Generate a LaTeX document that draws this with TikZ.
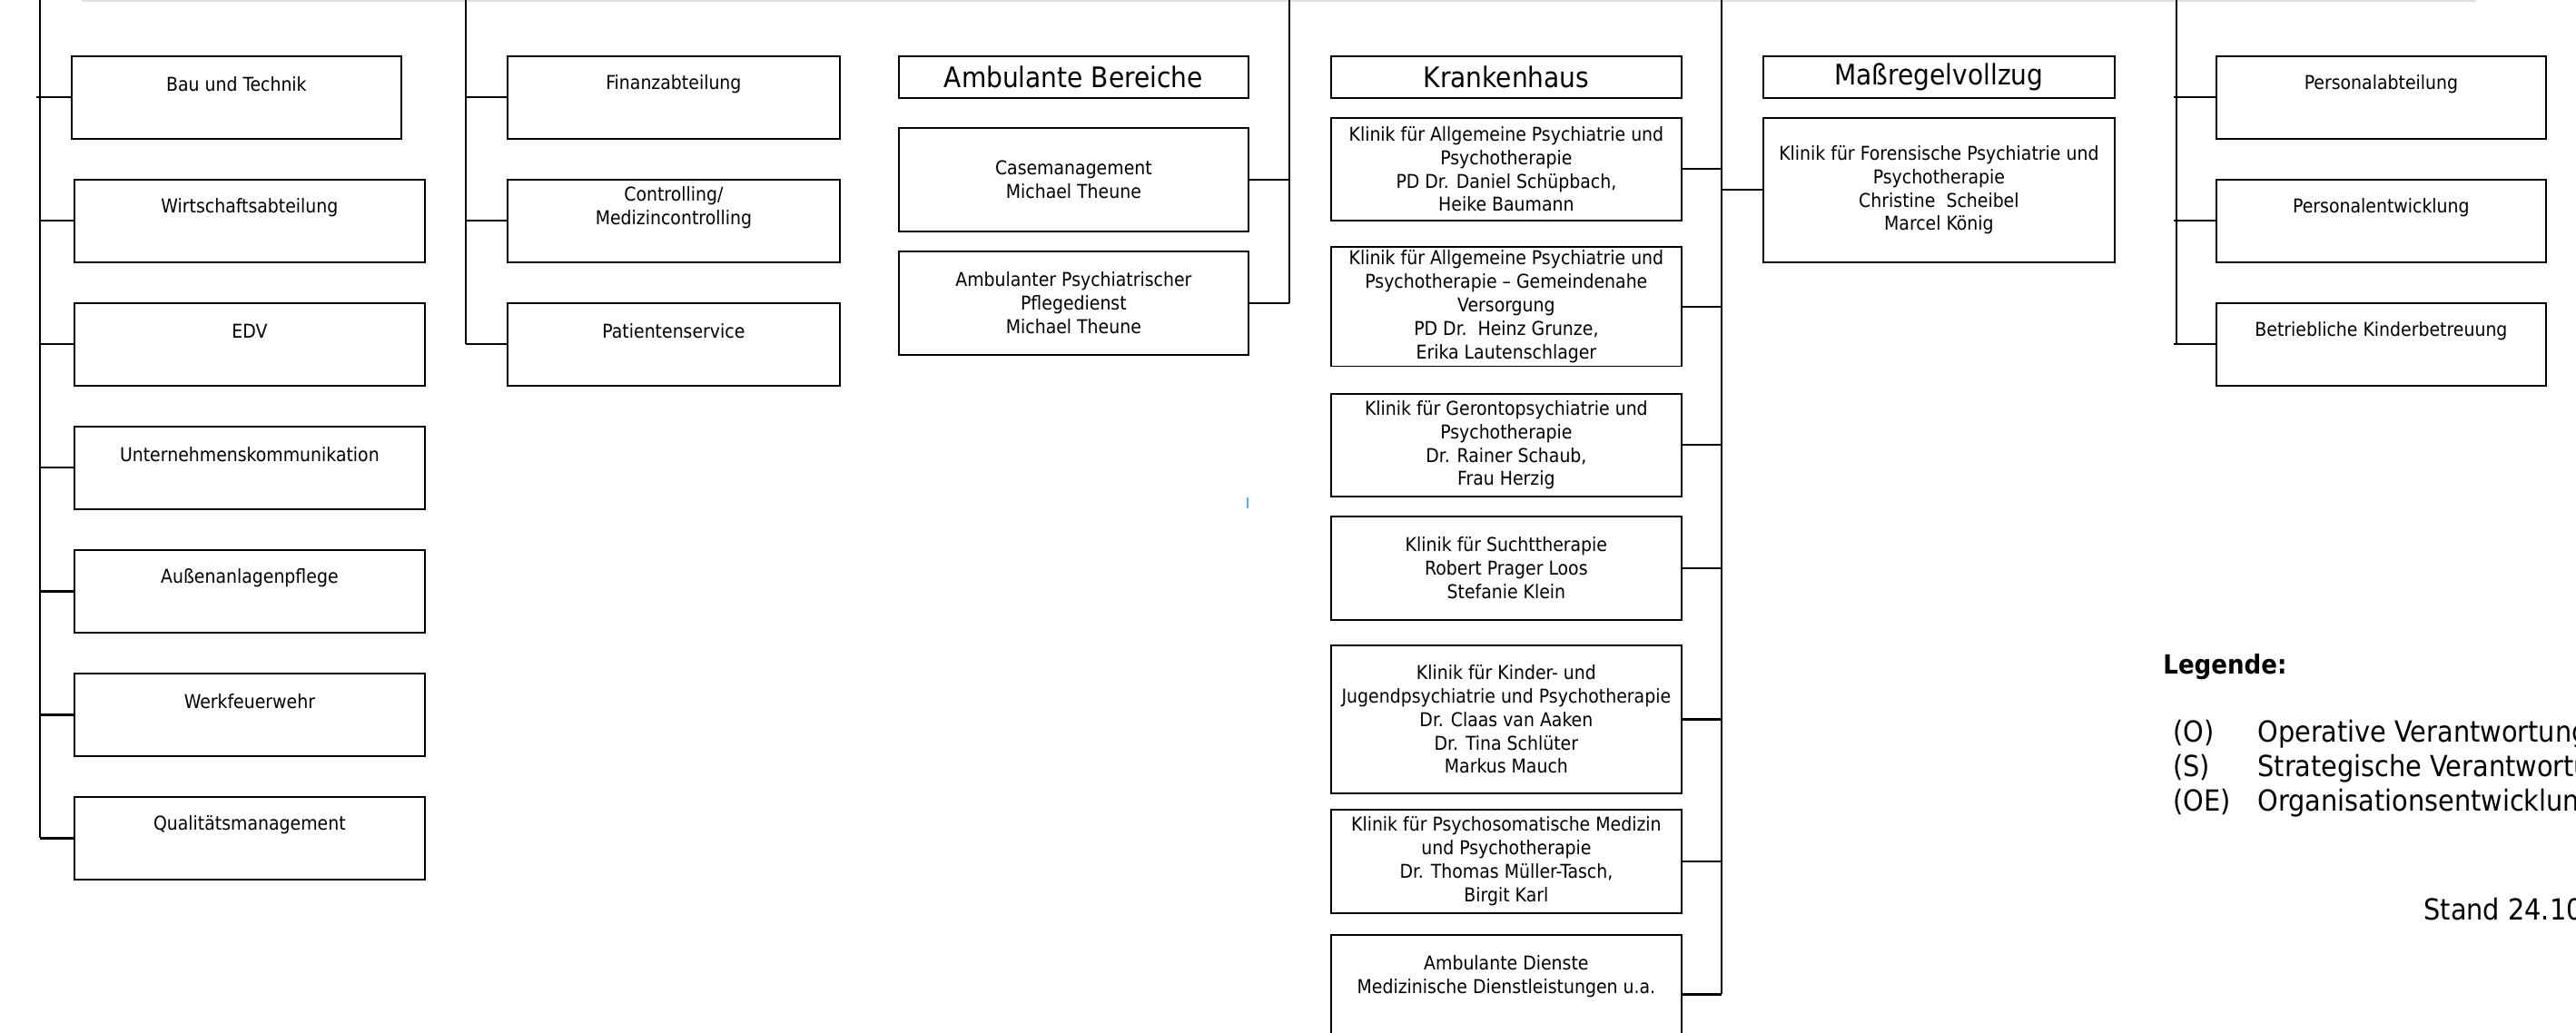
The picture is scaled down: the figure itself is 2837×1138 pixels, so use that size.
\documentclass[tikz,border=0pt]{standalone}
\usepackage{fontspec}
\setmainfont{DejaVu Sans Condensed}
\begin{document}
\begin{tikzpicture}[x=0.5pt,y=-0.5pt, line join=miter]
      \tikzset{box/.style={draw, line width=0.9pt, anchor=north west, inner sep=2pt,
        align=center, font=\fontsize{10.5}{12.9}\selectfont},
      head/.style={box, minimum height=23pt, font=\fontsize{15.6}{18}\selectfont},
      boxtext/.style={font=\fontsize{10.5}{12.9}\selectfont, align=center, anchor=center, yshift=-16pt},
      link/.style={line width=1.1pt},
      legend/.style={anchor=base west, inner sep=0pt, font=\fontsize{16}{20}\selectfont}}
      \useasboundingbox (0,0) rectangle (2837,1138);
      \draw [gray!25, line width=1pt] (90,1) -- (2727,1);
      \coordinate (bus1) at (44,0);   \coordinate (bus2) at (513,0);
      \coordinate (bus3) at (1420,0); \coordinate (bus4) at (1896,0);
      \coordinate (bus5) at (2397,0);
      % Stabsstellen links
      \node[box, minimum width=181.5pt, minimum height=45.5pt,
            label={[boxtext]north:Bau und Technik}] (bau) at (78,61) {};
      \draw [link] (bau.west) -- ([xshift=-2pt]bau.west -| bus1);
      \foreach \name/\txt [count=\i from 0] in {wirt/Wirtschaftsabteilung, edv/EDV,
          komm/Unternehmenskommunikation, aussen/Außenanlagenpflege,
          feuer/Werkfeuerwehr, qm/Qualitätsmanagement}{
        \node[box, minimum width=193pt, minimum height=45.5pt,
              label={[boxtext]north:\txt}] (\name) at (81,{197+136*\i}) {};
        \draw [link] (\name.west) -- (\name.west -| bus1);
      }
      \draw [link] (bus1) -- (bus1 |- qm.west);
      \foreach \name/\txt [count=\i from 0] in {fin/Finanzabteilung,
          contr/{Controlling/\\Medizincontrolling}, pat/Patientenservice}{
        \node[box, minimum width=183pt, minimum height=45.5pt,
              label={[boxtext]north:{\txt}}] (\name) at (558,{61+136*\i}) {};
        \draw [link] (\name.west) -- (\name.west -| bus2);
      }
      \draw [link] (bus2) -- (bus2 |- pat.west);
      % Ambulante Bereiche
      \node[head, minimum width=192.5pt] (amb) at (989,61) {Ambulante Bereiche};
      \node[box, minimum width=192.5pt, minimum height=57pt] (case) at (989,140)
            {Casemanagement\\Michael Theune};
      \node[box, minimum width=192.5pt, minimum height=57pt] (pflege) at (989,276)
            {Ambulanter Psychiatrischer\\Pflegedienst\\Michael Theune};
      \draw [link] (case.east) -- (case.east -| bus3);
      \draw [link] (pflege.east) -- (pflege.east -| bus3);
      \draw [link] (bus3) -- (bus3 |- pflege.east);
      % Krankenhaus
      \node[head, minimum width=193pt] (kh) at (1465,61) {Krankenhaus};
      \node[box, minimum width=193pt, minimum height=56.5pt] (k1) at (1465,129)
            {Klinik für Allgemeine Psychiatrie und\\Psychotherapie\\PD Dr. Daniel Schüpbach,\\Heike Baumann};
      \node[box, minimum width=193pt, minimum height=65pt] (k2) at (1465,271)
            {Klinik für Allgemeine Psychiatrie und\\Psychotherapie – Gemeindenahe\\Versorgung\\PD Dr.\ \ Heinz Grunze,\\Erika Lautenschlager};
      \node[box, minimum width=193pt, minimum height=56.5pt] (k3) at (1465,433)
            {Klinik für Gerontopsychiatrie und\\Psychotherapie\\Dr. Rainer Schaub,\\Frau Herzig};
      \node[box, minimum width=193pt, minimum height=57pt] (k4) at (1465,568)
            {Klinik für Suchttherapie\\Robert Prager Loos\\Stefanie Klein};
      \node[box, minimum width=193pt, minimum height=81.5pt] (k5) at (1465,710)
            {Klinik für Kinder- und\\Jugendpsychiatrie und Psychotherapie\\Dr. Claas van Aaken\\Dr. Tina Schlüter\\Markus Mauch};
      \node[box, minimum width=193pt, minimum height=57pt] (k6) at (1465,891)
            {Klinik für Psychosomatische Medizin\\und Psychotherapie\\Dr. Thomas Müller-Tasch,\\Birgit Karl};
      \node[box, minimum width=193pt, minimum height=65.5pt,
            label={[boxtext, yshift=-7.5pt]north:{Ambulante Dienste\\Medizinische Dienstleistungen u.a.}}]
            (k7) at (1465,1029) {};
      \foreach \k in {1,...,7}
        \draw [link] (k\k.east) -- (k\k.east -| bus4);
      \draw [link] (bus4) -- (bus4 |- k7.east);
      \draw [blue!45!cyan!70, line width=0.8pt] (1374,548) -- (1374,560);
      % Massregelvollzug
      \node[head, minimum width=193.5pt] (mrv) at (1941,61) {Maßregelvollzug};
      \node[box, minimum width=193.5pt, minimum height=79.5pt] (fore) at (1941,129)
            {Klinik für Forensische Psychiatrie und\\Psychotherapie\\Christine\ \ Scheibel\\Marcel König};
      \draw [link] (fore.west) -- (fore.west -| bus4);
      % Personal
      \foreach \name/\txt [count=\i from 0] in {pers/Personalabteilung,
          pe/Personalentwicklung, kita/Betriebliche Kinderbetreuung}{
        \node[box, minimum width=181.5pt, minimum height=45.5pt,
              label={[boxtext]north:\txt}] (\name) at (2440,{61+136*\i}) {};
        \draw [link] (\name.west) -- ([xshift=-1.5pt]\name.west -| bus5);
      }
      \draw [link] (bus5) -- (bus5 |- kita.west);
      % Legende
      \node[legend, font=\bfseries\fontsize{14.5}{18}\selectfont] (leg) at (2382,742) {Legende:};
      \foreach \kurz/\txt [count=\i from 0] in {(O)/Operative Verantwortung,
          (S)/Strategische Verantwortung, (OE)/Organisationsentwicklung}{
        \node[legend] (kurz\i) at (2393,{817+38*\i}) {\kurz};
        \node[legend] (lang\i) at (2486,{817+38*\i}) {\txt};
      }
      \node[legend] (stand) at (2669,1013) {Stand 24.10};
    \end{tikzpicture}
\end{document}
